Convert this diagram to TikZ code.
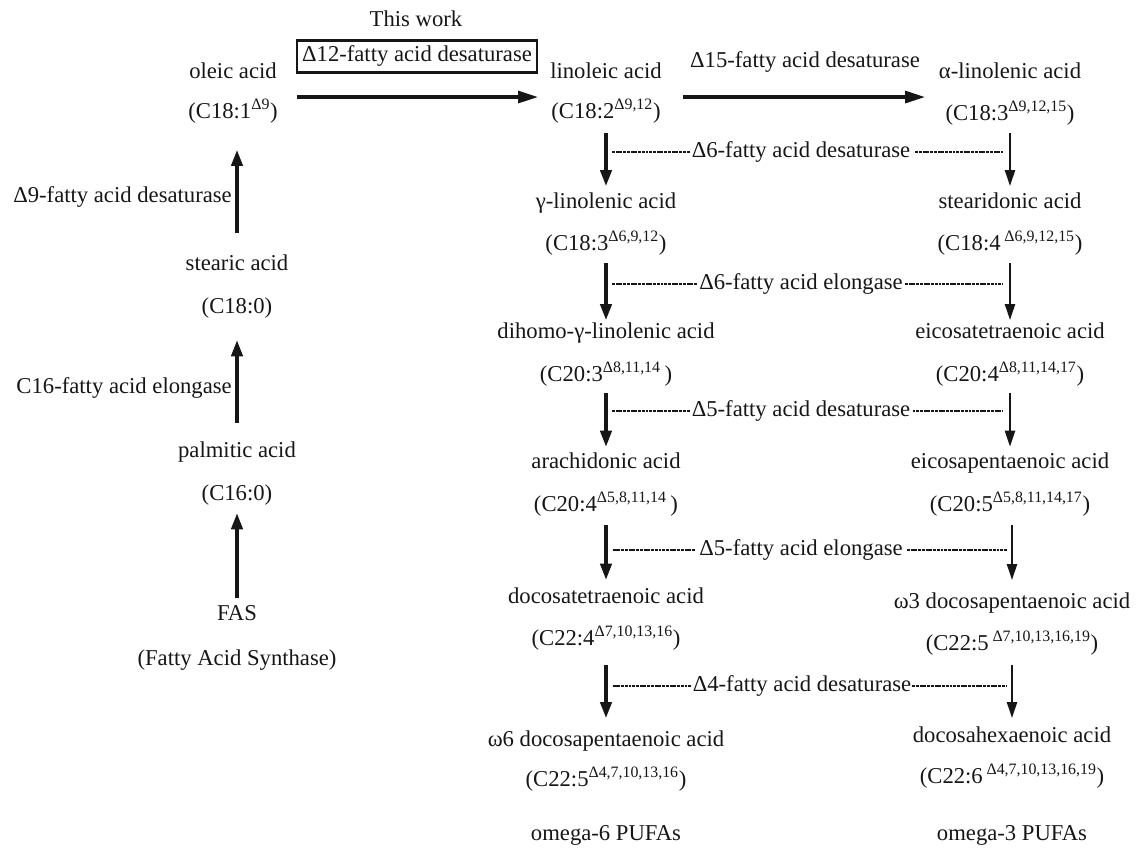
\documentclass[tikz,border=0pt]{standalone}
\usepackage{fontspec}
\setmainfont{Liberation Serif}
\usetikzlibrary{arrows.meta}
\definecolor{ink}{HTML}{161616}
\newcommand{\sx}[1]{\textsuperscript{#1}}
\begin{document}
\begin{tikzpicture}[x=0.75pt,y=-0.75pt,
  every node/.style={font=\fontsize{17}{20}\selectfont, text=ink, inner sep=0pt, text height=12pt, text depth=4pt},
  bigarr/.style={draw=ink, line width=2.4pt, -{Triangle[length=12pt,width=8.5pt]}},
  smallarr/.style={draw=ink, line width=1.7pt, -{Triangle[length=12pt,width=7.5pt]}},
  harr/.style={draw=ink, line width=2.4pt, -{Triangle[length=15pt,width=9pt]}},
  dline/.style={draw=ink, line width=1.3pt, dash pattern=on 2.2pt off 0.6pt}
]
\useasboundingbox (0,0) rectangle (1140,850);

% left column
\node (ole)  at (233,73)  {oleic acid};
\node (olef) at (233,113) {(C18:1\sx{Δ9})};
\node (ste)  at (237,265) {stearic acid};
\node (stef) at (237,308) {(C18:0)};
\node (pal)  at (237,452) {palmitic acid};
\node (palf) at (237,495) {(C16:0)};
\node (fas)  at (237,615) {FAS};
\node (fasf) at (237,660) {(Fatty Acid Synthase)};
\node[anchor=east] (d9)  at (232,197) {Δ9-fatty acid desaturase};
\node[anchor=east] (e16) at (232,388) {C16-fatty acid elongase};

\draw[bigarr, shorten <=16pt, shorten >=19.5pt] (ste.north) -- (ste.north |- olef.south);
\draw[bigarr, shorten <=13.5pt, shorten >=16pt] (pal.north) -- (stef.south);
\draw[bigarr, shorten <=4.5pt, shorten >=5.5pt] (fas.north) -- (palf.south);

% top
\node (tw) at (416,21) {This work};
\node[draw=ink, line width=1.6pt, inner xsep=3.5pt, inner ysep=4pt] (d12) at (417,56.5) {Δ12-fatty acid desaturase};
\coordinate (h1a) at (297,97);
\coordinate (h1b) at (538,97);
\draw[harr] (h1a) -- (h1b);
\node (d15) at (805,62) {Δ15-fatty acid desaturase};
\coordinate (h2a) at (683,97);
\coordinate (h2b) at (925,97);
\draw[harr] (h2a) -- (h2b);

% omega-6 column
\node (lin)  at (606,73)  {linoleic acid};
\node (linf) at (606,113) {(C18:2\sx{Δ9,12})};
\node (gla)  at (606,203) {γ-linolenic acid};
\node (glaf) at (606,245) {(C18:3\sx{Δ6,9,12})};
\node (dgl)  at (606,333) {dihomo-γ-linolenic acid};
\node (dglf) at (606,376) {(C20:3\sx{Δ8,11,14}\,)};
\node (ara)  at (606,463) {arachidonic acid};
\node (araf) at (606,506) {(C20:4\sx{Δ5,8,11,14}\,)};
\node (dta)  at (606,598) {docosatetraenoic acid};
\node (dtaf) at (606,640) {(C22:4\sx{Δ7,10,13,16})};
\node (dp6)  at (606,741) {ω6 docosapentaenoic acid};
\node (dp6f) at (606,781) {(C22:5\sx{Δ4,7,10,13,16})};
\node (om6)  at (606,835) {omega-6 PUFAs};

% omega-3 column
\node (ala)  at (1010,73)  {α-linolenic acid};
\node (alaf) at (1010,115) {(C18:3\sx{Δ9,12,15})};
\node (sda)  at (1010,203) {stearidonic acid};
\node (sdaf) at (1010,245) {(C18:4\,\sx{Δ6,9,12,15})};
\node (eta)  at (1010,333) {eicosatetraenoic acid};
\node (etaf) at (1010,376) {(C20:4\sx{Δ8,11,14,17})};
\node (epa)  at (1010,463) {eicosapentaenoic acid};
\node (epaf) at (1010,506) {(C20:5\sx{Δ5,8,11,14,17})};
\node (dp3)  at (1012,603) {ω3 docosapentaenoic acid};
\node (dp3f) at (1012,645) {(C22:5\,\sx{Δ7,10,13,16,19})};
\node (dha)  at (1012,737) {docosahexaenoic acid};
\node (dhaf) at (1012,778) {(C22:6\,\sx{Δ4,7,10,13,16,19})};
\node (om3)  at (1012,835) {omega-3 PUFAs};

% vertical arrows omega-6
\draw[bigarr, shorten <=7pt, shorten >=4.5pt] (linf.south) -- (gla.north);
\draw[bigarr, shorten <=5.5pt, shorten >=1.5pt] (glaf.south) -- (dgl.north);
\draw[bigarr, shorten <=4.5pt, shorten >=4pt] (dglf.south) -- (ara.north);
\draw[bigarr, shorten <=6pt, shorten >=5.5pt] (araf.south) -- (dta.north);
\draw[bigarr, shorten <=10.5pt, shorten >=9pt] (dtaf.south) -- (dp6.north);

% vertical arrows omega-3
\draw[smallarr, shorten <=5.5pt, shorten >=4.5pt] (alaf.south) -- (sda.north);
\draw[smallarr, shorten <=5.5pt, shorten >=1.5pt] (sdaf.south) -- (eta.north);
\draw[smallarr, shorten <=4.5pt, shorten >=4pt] (etaf.south) -- (epa.north);
\draw[smallarr, shorten <=6pt, shorten >=9pt] ([xshift=1.5pt]epaf.south) -- ([xshift=1.5pt]epaf.south |- dp3.north);
\draw[smallarr, shorten <=7pt, shorten >=6pt] (dp3f.south) -- (dha.north);

% enzyme labels with dashed leaders
\node (e1) at (801,152) {Δ6-fatty acid desaturase};
\node (e2) at (801,284) {Δ6-fatty acid elongase};
\node (e3) at (801,411) {Δ5-fatty acid desaturase};
\node (e4) at (801,550) {Δ5-fatty acid elongase};
\node (e5) at (802,686) {Δ4-fatty acid desaturase};

\draw[dline] ([xshift=-1.5pt]e1.west) -- ([xshift=4pt]e1.west -| gla.center);
\draw[dline] ([xshift=3.5pt]e1.east) -- ([xshift=-5pt]e1.east -| sda.center);
\draw[dline] ([xshift=-1.5pt]e2.west) -- ([xshift=4pt]e2.west -| dgl.center);
\draw[dline] ([xshift=1.5pt]e2.east) -- ([xshift=-5pt]e2.east -| eta.center);
\draw[dline] ([xshift=-1.5pt]e3.west) -- ([xshift=4pt]e3.west -| ara.center);
\draw[dline] ([xshift=1.5pt]e3.east) -- ([xshift=-5pt]e3.east -| epa.center);
\draw[dline] ([xshift=-3pt]e4.west) -- ([xshift=5pt]e4.west -| dta.center);
\draw[dline] ([xshift=3pt]e4.east) -- ([xshift=-4pt]e4.east -| dp3.center);
\draw[dline] ([xshift=-1pt]e5.west) -- ([xshift=5pt]e5.west -| dp6.center);
\draw[dline] ([xshift=0.5pt]e5.east) -- ([xshift=-4pt]e5.east -| dha.center);
\end{tikzpicture}
\end{document}
